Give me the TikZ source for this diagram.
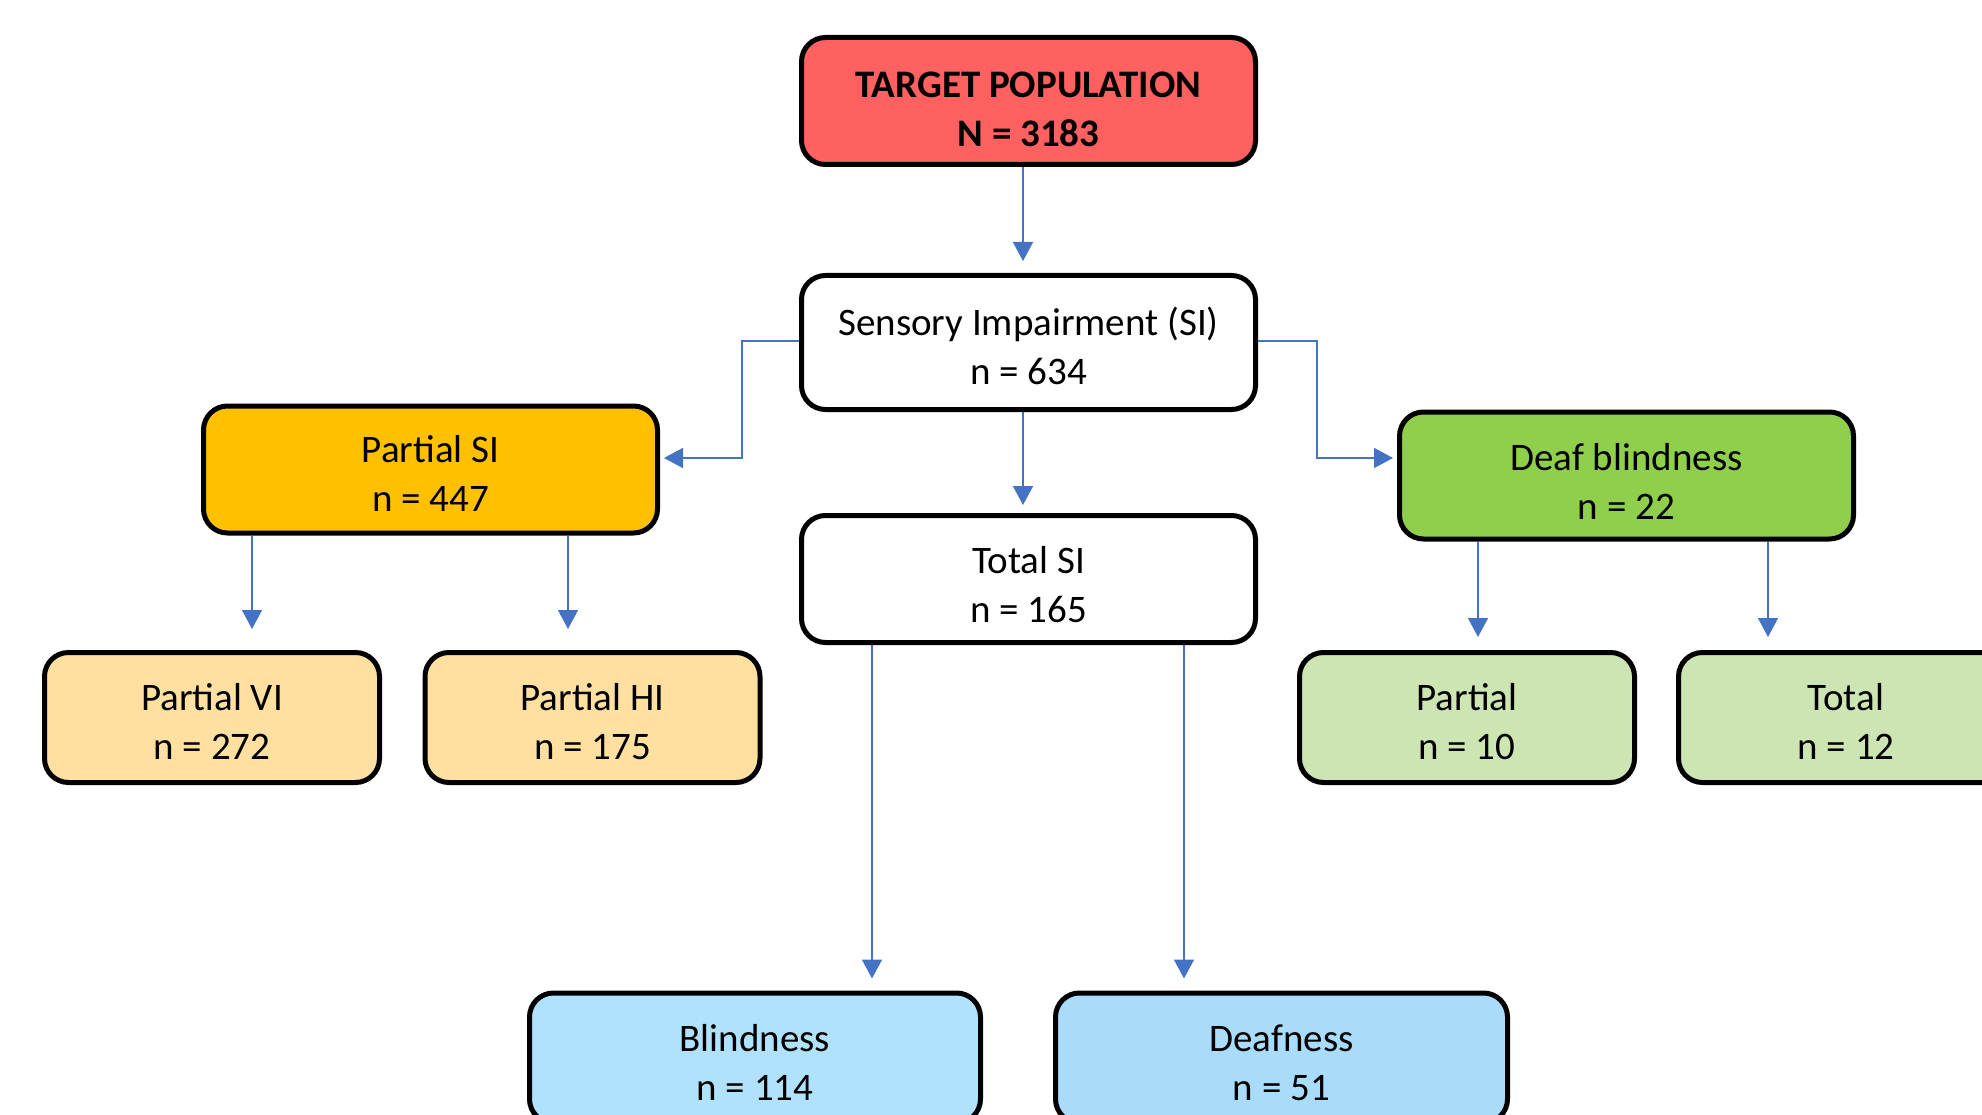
\documentclass[tikz,border=0pt]{standalone}
\usepackage{fontspec}
\setmainfont{Carlito}
\usetikzlibrary{arrows.meta,backgrounds}
\definecolor{arrblue}{HTML}{4472C4}
\definecolor{cred}{HTML}{FF6161}
\definecolor{corange}{HTML}{FFC000}
\definecolor{clorange}{HTML}{FFE0A0}
\definecolor{cgreen}{HTML}{8FCF4C}
\definecolor{clgreen}{HTML}{CDE5B3}
\definecolor{cblueA}{HTML}{B0E2FE}
\definecolor{cblueB}{HTML}{A9DCFA}
\newcommand{\twol}[3][45pt]{\rule{0pt}{#1}#2\\#3\rule[-10pt]{0pt}{10pt}}
\tikzset{
  box/.style={draw=black, line width=5pt, rounded corners=24pt, align=center,
    inner sep=0pt, font=\fontsize{39}{49}\selectfont},
  bigbox/.style={box, minimum width=454pt, minimum height=127pt},
  smallbox/.style={box, minimum width=335pt, minimum height=130pt},
  arr/.style={draw=arrblue, line width=1.6pt, -{Triangle[width=20pt,length=19pt]}}
}
\begin{document}
\begin{tikzpicture}[x=1pt,y=-1pt]
\useasboundingbox (0,0) rectangle (1982,1115);
\clip (0,0) rectangle (1982,1115);
% nodes
\node[bigbox, fill=cred, font=\fontsize{39}{49}\selectfont\bfseries] (top) at (1028.5,101) {\twol[53pt]{TARGET POPULATION}{N = 3183}};
\node[bigbox, fill=white, minimum height=134pt] (si) at (1028.5,342.5) {\twol{Sensory Impairment (SI)}{n = 634}};
\node[bigbox, fill=white] (tsi) at (1028.5,579) {\twol[48pt]{Total SI}{n = 165}};
\node[bigbox, fill=corange] (psi) at (430.5,469.5) {\twol{Partial SI}{n = 447}};
\node[bigbox, fill=cgreen] (db) at (1626.5,475.5) {\twol[48pt]{Deaf blindness}{n = 22}};
\node[smallbox, fill=clorange] (vi) at (212,717.5) {\twol{Partial VI}{n = 272}};
\node[smallbox, fill=clorange] (hi) at (592.5,717.5) {\twol{Partial HI}{n = 175}};
\node[smallbox, fill=clgreen] (dbp) at (1467,717.5) {\twol{Partial}{n = 10}};
\node[smallbox, fill=clgreen] (dbt) at (1846,717.5) {\twol{Total}{n = 12}};
\node[bigbox, fill=cblueA, minimum width=451pt, minimum height=130pt] (bl) at (755,1058) {\twol{Blindness}{n = 114}};
\node[bigbox, fill=cblueB, minimum width=452pt, minimum height=130pt] (df) at (1281.5,1058) {\twol{Deafness}{n = 51}};
% coordinates for connector routing
\coordinate (cx) at (1023,0);
\coordinate (l1) at (742,341);
\coordinate (l2) at (742,458);
\coordinate (r1) at (1317,341);
\coordinate (r2) at (1317,458);
\coordinate (xvi) at (252,0);
\coordinate (xhi) at (568,0);
\coordinate (xdbp) at (1478,0);
\coordinate (xdbt) at (1768,0);
\coordinate (xbl) at (872,0);
\coordinate (xdf) at (1184,0);
\begin{scope}[on background layer]
\draw[arr, shorten >=12pt] (top.south -| cx) -- (si.north -| cx);
\draw[arr, shorten >=8pt] (si.south -| cx) -- (tsi.north -| cx);
\draw[arr, shorten >=4pt] (si.west |- l1) -- (l1) -- (l2) -- (l2 -| psi.east);
\draw[arr, shorten >=4pt] (si.east |- r1) -- (r1) -- (r2) -- (r2 -| db.west);
\draw[arr, shorten >=21pt] (psi.south -| xvi) -- (vi.north -| xvi);
\draw[arr, shorten >=21pt] (psi.south -| xhi) -- (hi.north -| xhi);
\draw[arr, shorten >=13pt] (db.south -| xdbp) -- (dbp.north -| xdbp);
\draw[arr, shorten >=13pt] (db.south -| xdbt) -- (dbt.north -| xdbt);
\draw[arr, shorten >=12pt] (tsi.south -| xbl) -- (bl.north -| xbl);
\draw[arr, shorten >=12pt] (tsi.south -| xdf) -- (df.north -| xdf);
\end{scope}
\end{tikzpicture}
\end{document}
